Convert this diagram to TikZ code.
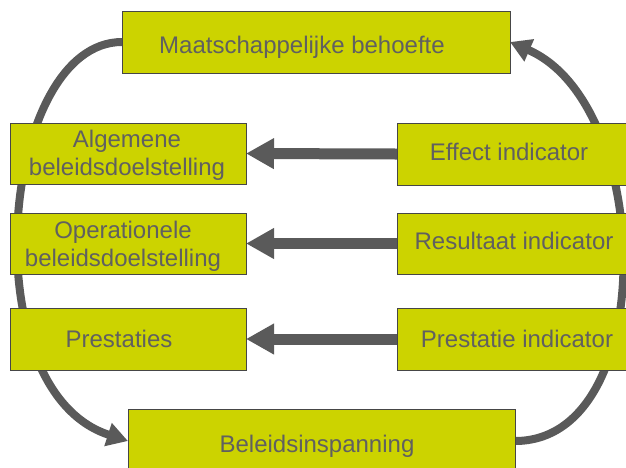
\documentclass[tikz,border=0pt]{standalone}
\usepackage{fontspec}
\setmainfont{Liberation Sans}
\usetikzlibrary{arrows.meta,backgrounds}
\definecolor{boxfill}{RGB}{204,211,0}
\definecolor{boxline}{RGB}{70,70,70}
\definecolor{txtgray}{RGB}{96,96,96}
\definecolor{arrgray}{RGB}{90,90,90}
\tikzset{
  box/.style={draw=boxline, fill=boxfill, line width=0.9pt, inner sep=0pt, outer sep=0pt},
  txt/.style={text=txtgray, font=\fontsize{24}{28}\selectfont, inner sep=0pt},
  harrow/.style={draw=arrgray, line width=11pt, -{Triangle[length=28pt,width=29pt]}},
  carrow/.style={draw=arrgray, line width=8pt, -{Triangle[length=21pt,width=23pt]}},
}
\begin{document}
\begin{tikzpicture}[x=1pt,y=-1pt]
\useasboundingbox (0,0) rectangle (626,467);
\clip (0,0) rectangle (626,467);
% boxes
\node[box, minimum width=388pt, minimum height=62pt] (top) at (316,42) {};
\node[box, minimum width=236pt, minimum height=61pt] (alg) at (128,153.5) {};
\node[box, minimum width=236pt, minimum height=61pt] (ope) at (128,243.5) {};
\node[box, minimum width=236pt, minimum height=62pt] (pre) at (128,339) {};
\node[box, minimum width=231pt, minimum height=62pt] (eff) at (512.5,154) {};
\node[box, minimum width=231pt, minimum height=61pt] (res) at (512.5,243.5) {};
\node[box, minimum width=231pt, minimum height=62pt] (pind) at (512.5,339) {};
\node[box, minimum width=387pt, minimum height=64pt] (bel) at (321.5,441) {};
% texts
\node[txt, anchor=base] (topT) at (302,53) {Maatschappelijke behoefte};
\node[txt, align=center] (algT) at (127,155.5) {Algemene\\beleidsdoelstelling};
\node[txt, align=center] (opeT) at (123,246) {Operationele\\beleidsdoelstelling};
\node[txt, anchor=base] (preT) at (119,347) {Prestaties};
\node[txt, anchor=base] (effT) at (509,160) {Effect indicator};
\node[txt, anchor=base] (resT) at (514,249) {Resultaat indicator};
\node[txt, anchor=base] (pindT) at (517,347) {Prestatie indicator};
\node[txt, anchor=base] (belT) at (317,452) {Beleidsinspanning};
% connectors
\begin{scope}[on background layer]
\draw[carrow] (top.west) .. controls (0,42) and (-30,390) .. (bel.west);
\draw[carrow] (bel.east) .. controls (660,441) and (655,105) .. (top.east);
\draw[harrow] (eff.west) -- (alg.east);
\draw[harrow] (res.west) -- (ope.east);
\draw[harrow] (pind.west) -- (pre.east);
\end{scope}
\end{tikzpicture}
\end{document}
